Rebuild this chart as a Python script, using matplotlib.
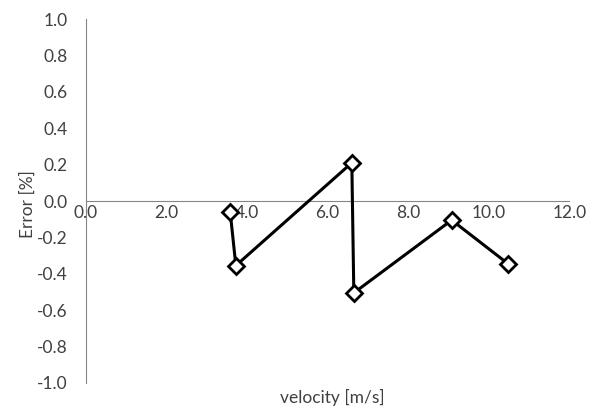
import matplotlib.pyplot as plt
import numpy as np

plt.rcParams["font.family"] = ["Lato", "DejaVu Sans"]

velocity = [3.58, 3.72, 6.60, 6.65, 9.08, 10.48]
error = [-0.06, -0.355, 0.21, -0.505, -0.105, -0.345]
x_ticks = [0, 2, 4, 6, 8, 10, 12]
y_ticks = [-1.0, -0.8, -0.6, -0.4, -0.2, 0.0, 0.2, 0.4, 0.6, 0.8, 1.0]

fig = plt.figure(figsize=(5.99, 4.09), dpi=100)
ax = fig.add_axes([0.1436, 0.0636, 0.8068, 0.8899])

ax.plot(velocity, error, color="black", linewidth=2.2, marker="D",
        markersize=8, markerfacecolor="white", markeredgecolor="black",
        markeredgewidth=2, zorder=3)

ax.set_xlim(0, 12)
ax.set_ylim(-1, 1)
ax.set_xticks(x_ticks)
ax.set_xticklabels([f"{v:.1f}" for v in x_ticks])
ax.set_yticks(y_ticks)
ax.set_yticklabels([f"{v:.1f}" for v in y_ticks])

for s in ["top", "right"]:
    ax.spines[s].set_visible(False)
ax.spines["left"].set_position(("data", 0))
ax.spines["bottom"].set_position(("data", 0))
ax.spines["left"].set_color("#868686")
ax.spines["bottom"].set_color("#868686")
ax.spines["left"].set_linewidth(0.8)
ax.spines["bottom"].set_linewidth(0.8)

ax.tick_params(axis="both", length=0, labelsize=12.5, colors="#404040")
ax.tick_params(axis="y", pad=13)
ax.tick_params(axis="x", pad=3)

fig.text(0.047, 0.5, "Error [%]", rotation=90, ha="center", va="center",
         fontsize=12.5, color="#404040")
fig.text(0.554, 0.027, "velocity [m/s]", ha="center", va="center",
         fontsize=12.5, color="#404040")

fig.savefig("out.png", dpi=100)
